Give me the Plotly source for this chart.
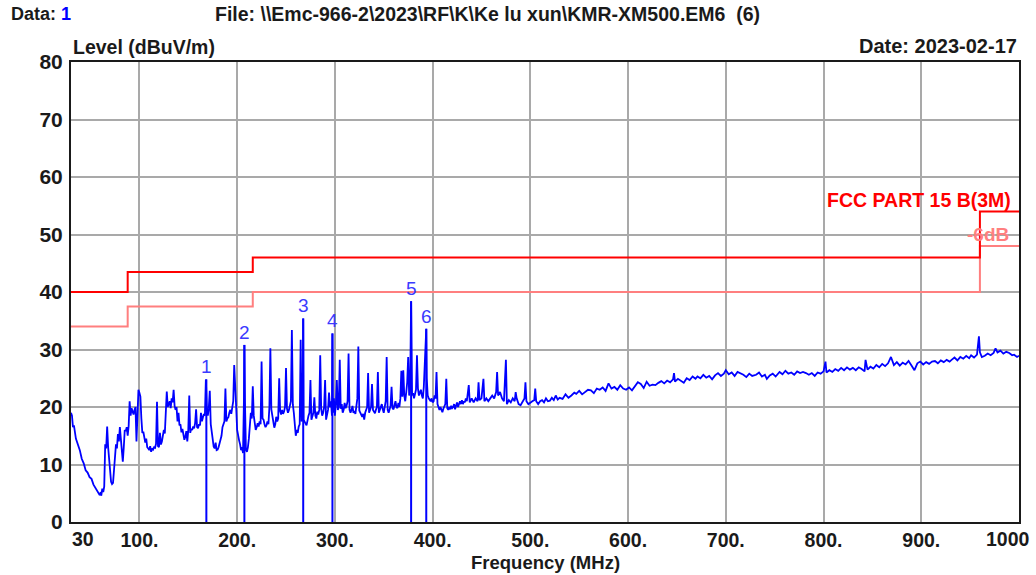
import plotly.graph_objects as go

# ---------------- data ----------------
freq = [30, 31, 32, 33, 35, 37, 39, 41, 43, 45, 47, 49, 51, 53, 55, 57, 59, 60, 61, 62, 63, 64, 65, 66, 67, 68, 69, 70,
        71, 72, 73, 74, 75, 76, 77, 78, 79, 80, 81, 82, 83, 84, 85, 86, 87, 88, 89, 90, 91, 92, 93, 94, 95, 96, 97, 98, 99,
        100, 101, 102, 103, 104, 105, 106, 107, 108, 109, 110, 111, 112, 113, 114, 115, 116, 117, 118, 119, 120, 121, 122,
        123, 124, 125, 126, 127, 128, 129, 130, 131, 132, 133, 134, 135, 136, 137, 138, 139, 140, 141, 142, 143, 144, 145,
        146, 147, 148, 149, 150, 151, 152, 153, 154, 155, 156, 157, 158, 159, 160, 161, 162, 163, 164, 165, 166, 167, 168,
        169, 170, 171, 172, 173, 174, 175, 176, 177, 178, 179, 180, 181, 182, 183, 184, 185, 186, 187, 188, 189, 190, 191,
        192, 193, 194, 195, 196, 197, 198, 199, 200, 201, 202, 203, 204, 205, 206, 207, 207.4, 208, 209, 210, 211, 212, 213,
        214, 215, 216, 217, 218, 219, 220, 221, 222, 223, 224, 225, 226, 227, 228, 229, 230, 231, 232, 233, 234, 235, 236,
        237, 238, 239, 240, 241, 242, 243, 244, 245, 246, 247, 248, 249, 250, 251, 252, 253, 254, 255, 256, 257, 258, 259,
        260, 261, 262, 263, 264, 265, 266, 267, 267.6, 268, 269, 270, 271, 272, 273, 274, 275, 276, 277, 278, 279, 280, 281,
        282, 283, 284, 285, 286, 287, 288, 289, 290, 291, 292, 293, 294, 295, 296, 297, 297.5, 298, 299, 300, 301, 302, 303,
        304, 305, 306, 307, 308, 309, 310, 311, 312, 313, 314, 315, 316, 317, 318, 319, 320, 321, 322, 323, 324, 325, 326,
        327, 328, 329, 330, 331, 332, 333, 334, 335, 336, 337, 338, 339, 340, 341, 342, 343, 344, 345, 346, 347, 348, 349,
        350, 351, 352, 353, 354, 355, 356, 357, 358, 359, 360, 361, 362, 363, 364, 365, 366, 367, 368, 369, 370, 371, 372,
        373, 374, 375, 376, 377, 378, 379, 380, 381, 382, 383, 384, 385, 386, 387, 388, 389, 390, 391, 392, 393.5, 394, 395,
        396, 397, 398, 399, 400, 401, 402, 403, 404, 405, 406, 407, 408, 409, 410, 411, 412, 413, 414, 415, 416, 417, 418,
        419, 420, 421, 422, 423, 424, 425, 426, 427, 428, 429, 430, 431, 432, 433, 434, 435, 437, 438, 440, 442, 444, 446,
        447, 448, 450, 452, 453, 455, 457, 459, 461, 463, 465, 466, 467, 469, 471, 473, 475, 476, 478, 480, 482, 484, 485,
        486, 488, 490, 492, 494, 495, 496, 498, 500, 502, 504, 505, 506, 508, 510, 512, 514, 516, 518, 520, 522, 524, 526,
        528, 530, 533, 536, 539, 542, 545, 547, 550, 553, 556, 559, 562, 565, 568, 571, 574, 577, 580, 583, 586, 589, 592,
        595, 598, 601, 604, 607, 610, 613, 616, 619, 622, 625, 628, 631, 634, 637, 640, 643, 646, 647, 648, 651, 654, 657,
        660, 663, 666, 669, 671, 674, 677, 680, 683, 686, 689, 692, 695, 698, 700, 703, 706, 709, 712, 715, 718, 721, 724,
        727, 731, 734, 737, 740, 742, 745, 748, 751, 755, 758, 761, 764, 767, 770, 773, 776, 779, 782, 785, 788, 791, 794,
        797, 800, 802, 803, 806, 809, 812, 815, 818, 821, 824, 827, 830, 833, 836, 839, 842, 843, 845, 848, 851, 854, 857,
        860, 863, 866, 869, 872, 875, 878, 881, 884, 887, 890, 893, 896, 899, 902, 905, 908, 911, 914, 917, 920, 923, 926,
        929, 931, 934, 937, 940, 943, 946, 949, 951, 954, 957, 959, 960, 962, 965, 968, 971, 974, 976, 978, 981, 984, 987,
        990, 993, 995, 998, 1000]

level = [19.0, 18.5, 16.5, 16.8, 14.5, 13.5, 12.5, 11.0, 10.2, 9.0, 8.6, 7.8, 7.5, 6.5, 6.0, 5.5, 4.8, 5.0, 4.6, 5.8, 5.2,
         6.2, 13.5, 12.8, 16.6, 13.0, 10.5, 8.0, 7.0, 6.6, 6.8, 9.0, 12.5, 13.5, 12.8, 15.3, 14.0, 16.5, 14.5, 12.5, 10.5,
         13.0, 16.0, 15.8, 16.5, 15.0, 16.7, 21.0, 18.5, 19.8, 19.2, 18.7, 19.5, 20.0, 14.0, 19.0, 23.0, 22.5, 21.8, 18.0,
         15.5, 15.7, 14.3, 13.8, 14.5, 13.0, 12.8, 12.5, 13.2, 12.2, 12.8, 12.6, 13.0, 12.9, 13.6, 20.9, 13.2, 13.0, 15.5,
         13.5, 14.0, 15.5, 16.0, 15.4, 19.8, 22.7, 20.0, 20.6, 21.0, 19.8, 21.5, 20.8, 23.0, 20.2, 19.5, 20.0, 17.5, 19.0,
         16.8, 17.0, 15.6, 16.2, 15.0, 14.3, 14.8, 15.8, 14.0, 16.0, 22.0, 15.5, 16.2, 16.0, 16.6, 16.3, 17.2, 19.6, 16.5,
         16.3, 17.0, 16.8, 19.0, 17.5, 18.2, 18.8, 18.5, 24.8, 20.0, 18.5, 19.8, 22.8, 17.0, 15.5, 13.8, 13.1, 12.8, 13.8,
         12.5, 12.6, 13.0, 13.6, 14.5, 15.0, 16.5, 17.0, 17.5, 23.2, 17.5, 18.0, 18.2, 19.0, 19.5, 18.8, 19.8, 21.0, 27.3,
         21.5, 20.0, 16.0, 14.8, 14.2, 13.5, 12.5, 13.0, 12.0, 21.7, 30.8, 21.0, 12.5, 12.2, 13.0, 14.5, 16.5, 19.0, 18.0,
         23.6, 18.5, 17.0, 16.0, 16.5, 17.2, 16.6, 17.5, 17.0, 27.9, 18.0, 17.8, 17.0, 16.5, 16.8, 17.5, 17.0, 20.0, 30.2,
         19.6, 18.5, 16.8, 16.4, 17.0, 18.3, 17.5, 18.0, 25.0, 19.3, 18.7, 19.5, 18.8, 19.2, 20.0, 26.8, 19.7, 19.0, 19.5,
         20.2, 21.0, 33.4, 20.4, 19.0, 17.5, 15.0, 16.0, 15.5, 16.6, 17.0, 31.7, 17.5, 18.0, 35.4, 17.8, 17.3, 17.1, 16.8,
         18.0, 18.5, 19.0, 24.7, 17.8, 18.5, 19.0, 21.7, 18.5, 18.0, 19.2, 18.7, 19.5, 29.0, 19.7, 18.5, 19.0, 20.0, 24.7,
         17.8, 18.8, 19.5, 22.5, 20.0, 21.0, 18.5, 32.8, 19.0, 21.5, 18.5, 20.5, 24.7, 19.5, 20.0, 28.2, 19.7, 20.5, 19.0,
         19.5, 20.7, 19.8, 20.2, 21.0, 29.3, 19.5, 19.0, 19.5, 20.2, 19.0, 19.3, 18.8, 20.0, 21.5, 30.5, 19.4, 19.0, 18.5,
         18.3, 18.8, 17.8, 19.0, 19.5, 20.0, 25.9, 19.0, 19.5, 20.0, 24.0, 19.5, 19.2, 18.9, 19.5, 20.0, 26.1, 19.0, 19.5,
         20.0, 20.5, 19.6, 19.0, 20.0, 21.0, 28.7, 19.5, 19.0, 19.8, 20.2, 23.5, 19.8, 19.6, 20.5, 21.0, 20.0, 19.8, 20.7,
         20.0, 21.5, 26.3, 21.8, 26.4, 22.0, 21.0, 22.5, 24.3, 28.7, 22.0, 23.0, 38.4, 22.0, 22.4, 21.5, 22.5, 23.0, 29.0,
         23.2, 22.0, 22.5, 23.0, 22.0, 21.5, 23.5, 27.0, 33.6, 25.0, 22.0, 21.5, 21.2, 21.0, 21.5, 20.8, 21.0, 22.0, 21.5,
         26.1, 20.5, 19.8, 19.5, 20.0, 19.5, 19.1, 19.7, 20.0, 20.5, 24.9, 19.8, 19.5, 20.0, 19.6, 20.2, 19.8, 20.0, 20.5,
         19.6, 20.2, 20.8, 20.0, 20.5, 21.0, 20.5, 21.2, 20.5, 21.0, 20.8, 21.5, 21.0, 23.8, 20.8, 21.5, 20.8, 21.5, 21.0,
         24.3, 21.2, 21.5, 24.9, 21.0, 21.5, 21.0, 21.5, 22.0, 21.5, 22.6, 26.1, 22.0, 22.6, 21.5, 21.0, 28.2, 20.5, 21.2,
         20.8, 21.5, 21.0, 22.6, 21.5, 20.5, 20.3, 21.0, 21.5, 24.3, 21.0, 20.5, 20.8, 21.0, 21.2, 23.2, 21.0, 20.5, 21.0,
         21.2, 20.8, 21.5, 21.0, 21.1, 21.6, 21.2, 22.0, 21.3, 21.6, 21.4, 22.2, 21.6, 22.0, 22.5, 22.3, 22.8, 22.2, 22.6,
         23.0, 22.9, 22.4, 23.2, 23.0, 23.4, 22.8, 24.1, 23.2, 23.5, 23.0, 23.8, 23.2, 23.0, 23.4, 22.9, 23.6, 24.3, 24.0,
         23.3, 24.4, 23.7, 23.9, 23.8, 24.2, 24.5, 24.1, 24.6, 24.3, 24.8, 25.9, 24.4, 24.9, 24.6, 24.2, 25.0, 24.7, 25.3,
         24.9, 25.3, 25.0, 25.6, 25.1, 25.4, 24.8, 25.5, 25.9, 25.4, 25.8, 26.4, 25.7, 26.0, 25.4, 26.1, 25.9, 25.6, 25.2,
         25.8, 25.4, 25.6, 26.0, 25.3, 25.6, 24.9, 25.5, 25.8, 25.3, 26.1, 25.7, 26.3, 25.8, 26.0, 25.6, 26.2, 25.9, 26.1,
         25.9, 25.6, 25.9, 25.4, 26.0, 25.8, 26.2, 27.9, 26.0, 26.4, 26.1, 26.6, 26.3, 26.8, 26.4, 26.9, 26.5, 26.8, 26.4,
         26.9, 26.6, 26.2, 28.2, 26.5, 27.0, 26.7, 27.3, 26.9, 27.5, 27.1, 27.6, 28.7, 27.3, 27.8, 27.2, 27.7, 27.4, 28.0,
         27.2, 26.4, 27.6, 27.9, 27.4, 27.8, 27.5, 27.9, 28.0, 27.6, 28.1, 27.8, 28.2, 27.9, 28.2, 28.6, 28.1, 28.7, 28.4,
         28.9, 28.5, 29.0, 28.6, 29.1, 32.3, 29.5, 28.7, 28.9, 29.3, 29.0, 29.4, 30.2, 29.5, 29.8, 29.3, 29.6, 29.4, 29.0,
         29.1, 28.7, 28.9]

# limit line (FCC Part 15 B, 3 m) as step breakpoints
limit_freq = [30, 88, 88, 216, 216, 960, 960, 1000]
limit_level = [40.0, 40.0, 43.5, 43.5, 46.0, 46.0, 54.0, 54.0]
margin_db = 6.0

# marked peaks
marker_label = ["1", "2", "3", "4", "5", "6"]
marker_freq = [168.5, 207.4, 267.6, 297.5, 378.0, 393.5]
marker_level = [24.8, 30.8, 35.4, 32.8, 38.4, 33.6]

x_tickvals = [100, 200, 300, 400, 500, 600, 700, 800, 900]
x_ticktext = ["100.", "200.", "300.", "400.", "500.", "600.", "700.", "800.", "900."]
y_tickvals = [0, 10, 20, 30, 40, 50, 60, 70, 80]

# ---------------- figure ----------------
FONT = "Liberation Sans, Arial, sans-serif"
BLUE = "#0000ff"
RED = "#ff0000"
PINK = "#ff7f7f"
INK = "#1a1a1a"

fig = go.Figure()

# -6 dB margin line
fig.add_trace(go.Scatter(x=limit_freq, y=[v - margin_db for v in limit_level], mode="lines",
                         line=dict(color=PINK, width=2), hoverinfo="skip", showlegend=False))
# limit line
fig.add_trace(go.Scatter(x=limit_freq, y=limit_level, mode="lines",
                         line=dict(color=RED, width=2), hoverinfo="skip", showlegend=False))
# measured trace
fig.add_trace(go.Scatter(x=freq, y=level, mode="lines",
                         line=dict(color=BLUE, width=1.8), showlegend=False))
# marker lines
mx, my = [], []
for f, v in zip(marker_freq, marker_level):
    mx += [f, f, None]
    my += [0, v, None]
fig.add_trace(go.Scatter(x=mx, y=my, mode="lines", line=dict(color=BLUE, width=2),
                         hoverinfo="skip", showlegend=False))

annotations = []
for lab, f, v in zip(marker_label, marker_freq, marker_level):
    annotations.append(dict(x=f, y=v, xref="x", yref="y", text=lab, showarrow=False,
                            yanchor="bottom", xanchor="center", yshift=0,
                            font=dict(family=FONT, size=19, color="#3a3aff")))

def paper_text(text, x, y, xanchor="left", color=INK, size=18):
    annotations.append(dict(x=x, y=y, xref="paper", yref="paper", text=text, showarrow=False,
                            xanchor=xanchor, yanchor="middle",
                            font=dict(family=FONT, size=size, color=color, weight="bold")))

paper_text("Data: <span style='color:#0000ff'>1</span>", -0.0654, 1.1043)
paper_text("File: \\\\Emc-966-2\\2023\\RF\\K\\Ke lu xun\\KMR-XM500.EM6&nbsp;&nbsp;(6)", 0.1498, 1.1043, size=19.5)
paper_text("Level (dBuV/m)", 0.0, 1.0326, size=19.5)
paper_text("Date: 2023-02-17", 1.0, 1.0348, xanchor="right", size=20)
paper_text("Frequency (MHz)", 0.5, -0.0891, xanchor="center", size=18.5)
paper_text("30", -0.001, -0.036, size=19.5)
paper_text("1000", 1.0137, -0.036, xanchor="right", size=19.5)
paper_text("FCC PART 15 B(3M)", 0.9937, 0.70, xanchor="right", color=RED, size=19.5)
paper_text("-6dB", 0.9915, 0.626, xanchor="right", color=PINK, size=19)

fig.update_layout(
    width=1036, height=575,
    margin=dict(l=71, r=17, t=62, b=53),
    paper_bgcolor="white", plot_bgcolor="white",
    annotations=annotations,
    showlegend=False,
)
fig.update_xaxes(range=[30, 1000], tickvals=x_tickvals, ticktext=x_ticktext,
                 tickfont=dict(family=FONT, size=19.5, color=INK, weight="bold"),
                 showgrid=True, gridcolor="#a9a9a9", gridwidth=2,
                 showline=True, linecolor=INK, linewidth=2, mirror=True,
                 ticks="", zeroline=False, ticklabelstandoff=0)
fig.update_yaxes(range=[0, 80], tickvals=y_tickvals,
                 tickfont=dict(family=FONT, size=21, color=INK, weight="bold"),
                 showgrid=True, gridcolor="#a9a9a9", gridwidth=2,
                 showline=True, linecolor=INK, linewidth=2, mirror=True,
                 ticks="", zeroline=False, ticklabelstandoff=2)

# remove the default 8 px page margin so the figure fills the window exactly
fig.write_html("out.html", config={"displayModeBar": False},
               post_script="document.body.style.margin='0';document.body.style.overflow='hidden';")
